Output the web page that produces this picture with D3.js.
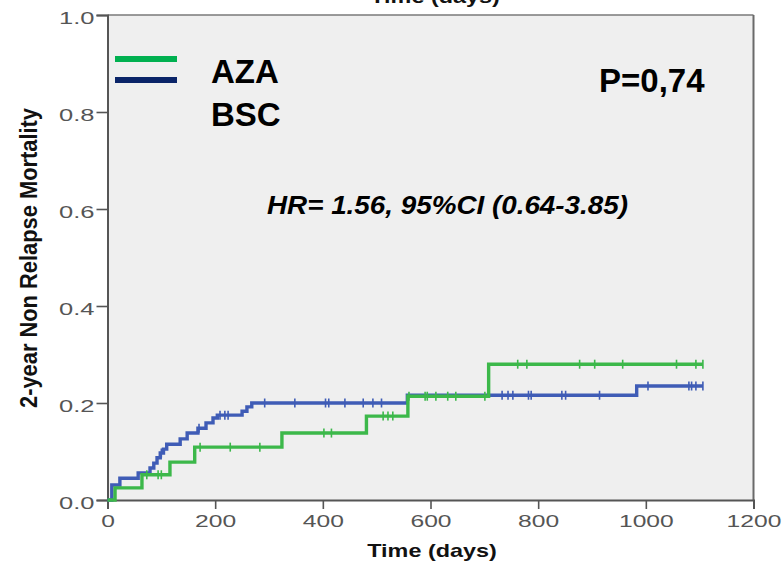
<!DOCTYPE html>
<html><head><meta charset="utf-8">
<script src="https://cdn.jsdelivr.net/npm/d3@7"></script>
<style>body{margin:0;background:#fff}svg{display:block}</style>
</head><body>
<svg id="c" width="783" height="561"></svg>
<script>
// ---- data ----
const xTicks = [0, 200, 400, 600, 800, 1000, 1200];
const yTicks = [0.0, 0.2, 0.4, 0.6, 0.8, 1.0];
const seriesNames = ["AZA", "BSC"];
// step points [time, cumulative NRM]
const azaSteps = [[0,0],[14,0.025],[64,0.052],[116,0.078],[162,0.109],[324,0.138],[481,0.173],[558,0.214],[708,0.280]];
const azaEnd = 1106;
const azaCensor = [73,94,100,172,228,283,402,416,512,521,530,560,590,594,610,632,647,701,762,779,877,905,957,1057,1093,1106];
const bscSteps = [[0,0],[8,0.031],[23,0.045],[57,0.056],[79,0.066],[86,0.076],[92,0.087],[98,0.097],[104,0.105],[110,0.115],[135,0.126],[148,0.138],[168,0.148],[183,0.159],[196,0.169],[204,0.175],[250,0.183],[259,0.192],[268,0.200],[557,0.216],[983,0.235]];
const bscEnd = 1106;
const bscCensor = [100,170,209,218,224,292,348,405,411,441,475,493,509,733,744,753,782,787,844,851,914,1004,1080,1085,1093,1106];
const pText = "P=0,74";
const hrText = "HR= 1.56, 95%CI (0.64-3.85)";
const xLabel = "Time (days)";
const yLabel = "2-year Non Relapse Mortality";

// ---- layout ----
const svg = d3.select("#c");
const L = 107.5, R = 753.5, T = 15, B = 500;
const x = d3.scaleLinear().domain([0, 1200]).range([L, R]);
const y = d3.scaleLinear().domain([0, 1]).range([B, T]);
const font = "'Liberation Sans', Arial, sans-serif";
const green = "#3cb84a", blue = "#3f5cb6";
const legGreen = "#00b050", legNavy = "#0a2468";

svg.append("rect").attr("x", L).attr("y", T).attr("width", R - L).attr("height", B - T).attr("fill", "#efefef");
// frame top/right
svg.append("line").attr("x1", L).attr("x2", R).attr("y1", T).attr("y2", T).attr("stroke", "#7a7a7a").attr("stroke-width", 1.6);
svg.append("line").attr("x1", R).attr("x2", R).attr("y1", T).attr("y2", B).attr("stroke", "#6a6a6a").attr("stroke-width", 2);

// top cut-off label (as in the reference)
svg.append("text").attr("transform", `translate(435,2.5) scale(1.3,1)`).attr("text-anchor", "middle")
  .attr("font-family", font).attr("font-weight", "bold").attr("font-size", 18).attr("fill", "#111").text(xLabel);

// axes
const yAxis = svg.append("g").attr("transform", `translate(${L},0)`)
  .call(d3.axisLeft(y).tickValues(yTicks).tickSize(11).tickFormat(d3.format(".1f")));
const xAxis = svg.append("g").attr("transform", `translate(0,${B})`)
  .call(d3.axisBottom(x).tickValues(xTicks).tickSize(9).tickFormat(d3.format("d")));
[yAxis, xAxis].forEach(g => {
  g.select(".domain").attr("stroke", "#555").attr("stroke-width", 2);
  g.selectAll(".tick line").attr("stroke", "#555").attr("stroke-width", 1.6);
});
yAxis.selectAll(".tick text").each(function(d) {
  const t = d3.select(this);
  t.attr("x", null).attr("dy", null).attr("text-anchor", "end")
   .attr("transform", `translate(-13,8.5) scale(1.5,1)`)
   .attr("font-family", font).attr("font-size", 17).attr("fill", "#555");
});
xAxis.selectAll(".tick text").each(function(d) {
  const t = d3.select(this);
  t.attr("y", null).attr("dy", null).attr("text-anchor", "middle")
   .attr("transform", `translate(0,27) scale(1.45,1)`)
   .attr("font-family", font).attr("font-size", 17).attr("fill", "#555");
});

// axis titles
svg.append("text").attr("transform", `translate(432,557) scale(1.3,1)`).attr("text-anchor", "middle")
  .attr("font-family", font).attr("font-weight", "bold").attr("font-size", 18).attr("fill", "#111").text(xLabel);
svg.append("text").attr("transform", `translate(37,258) rotate(-90)`).attr("text-anchor", "middle")
  .attr("font-family", "'Liberation Sans Narrow', 'Arial Narrow', " + font).attr("font-weight", "bold")
  .attr("font-size", 24).attr("fill", "#111").attr("textLength", 300).attr("lengthAdjust", "spacingAndGlyphs").text(yLabel);

// curves
function stepLine(steps, end) {
  const pts = steps.concat([[end, steps[steps.length - 1][1]]]);
  return d3.line().x(d => x(d[0])).y(d => y(d[1])).curve(d3.curveStepAfter)(pts);
}
function valueAt(steps, t) {
  let v = 0;
  steps.forEach(s => { if (s[0] <= t) v = s[1]; });
  return v;
}
function drawSeries(steps, end, censor, color) {
  svg.append("path").attr("d", stepLine(steps, end)).attr("fill", "none")
    .attr("stroke", color).attr("stroke-width", 3.4);
  svg.append("g").selectAll("line").data(censor).join("line")
    .attr("x1", d => x(d)).attr("x2", d => x(d))
    .attr("y1", d => y(valueAt(steps, d)) - 4.5).attr("y2", d => y(valueAt(steps, d)) + 4.5)
    .attr("stroke", color).attr("stroke-width", 1.6);
}
drawSeries(bscSteps, bscEnd, bscCensor, blue);
drawSeries(azaSteps, azaEnd, azaCensor, green);

// legend
const legColors = [legGreen, legNavy];
svg.append("g").selectAll("line").data(seriesNames).join("line")
  .attr("x1", 115).attr("x2", 177).attr("y1", (d, i) => 59 + i * 21).attr("y2", (d, i) => 59 + i * 21)
  .attr("stroke", (d, i) => legColors[i]).attr("stroke-width", 6);
svg.append("g").selectAll("text").data(seriesNames).join("text")
  .attr("x", 211).attr("y", (d, i) => 83 + i * 43)
  .attr("font-family", font).attr("font-weight", "bold").attr("font-size", 33).attr("fill", "#000").text(d => d);

svg.append("text").attr("x", 599).attr("y", 92).attr("font-family", font).attr("font-weight", "bold")
  .attr("font-size", 33).attr("fill", "#000").text(pText);
svg.append("text").attr("x", 267).attr("y", 214).attr("font-family", font).attr("font-weight", "bold")
  .attr("font-style", "italic").attr("font-size", 25).attr("fill", "#000")
  .attr("textLength", 361).attr("lengthAdjust", "spacingAndGlyphs").text(hrText);
</script>
</body></html>
